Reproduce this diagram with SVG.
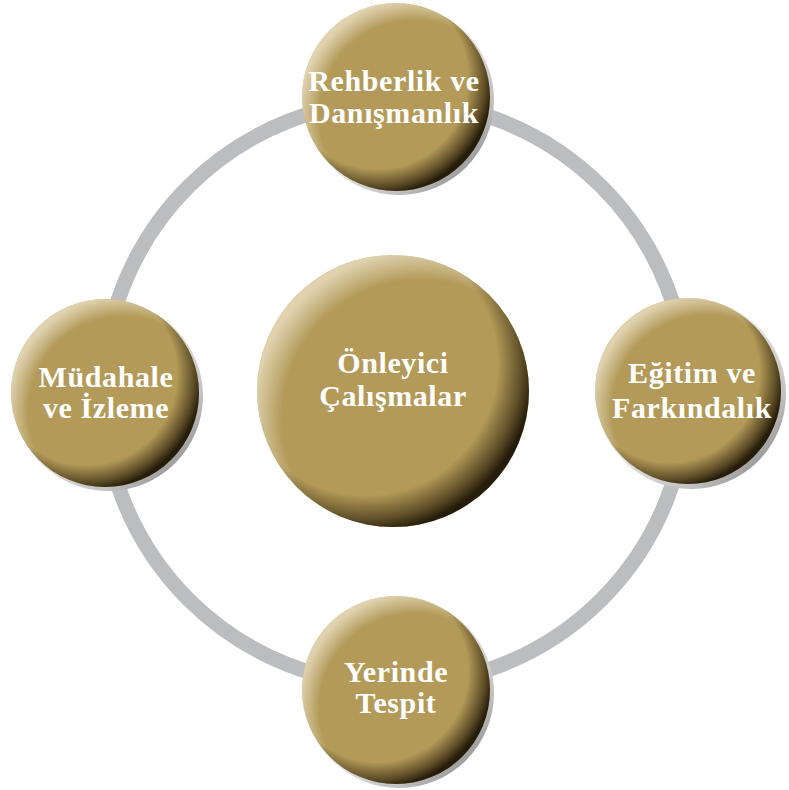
<svg xmlns="http://www.w3.org/2000/svg" width="789" height="790" viewBox="0 0 789 790">
<defs>
<radialGradient id="dark" cx="0.4" cy="0.4" r="0.62">
<stop offset="0" stop-color="#2a1f0a" stop-opacity="0"/>
<stop offset="0.78" stop-color="#2a1f0a" stop-opacity="0"/>
<stop offset="0.92" stop-color="#2a1f0a" stop-opacity="0.6"/>
<stop offset="1" stop-color="#1e1606" stop-opacity="0.95"/>
</radialGradient>
<radialGradient id="light" cx="0.6" cy="0.6" r="0.62">
<stop offset="0" stop-color="#ffffff" stop-opacity="0"/>
<stop offset="0.82" stop-color="#ffffff" stop-opacity="0"/>
<stop offset="1" stop-color="#fff8e8" stop-opacity="0.6"/>
</radialGradient>
<linearGradient id="rim" x1="0" y1="0" x2="1" y2="1">
<stop offset="0.3" stop-color="#ffffff"/>
<stop offset="0.75" stop-color="#c0c0c0"/>
<stop offset="1" stop-color="#6e6e6e"/>
</linearGradient>
<style>
.ring{fill:none;stroke:#bcbdbf;stroke-width:15}
.base{fill:#b39a58}
.dk{fill:url(#dark)}
.lt{fill:url(#light)}
.rim{fill:url(#rim)}
.lbl{font-family:"Liberation Serif","Times New Roman",serif;font-weight:bold;font-size:30px;letter-spacing:0.6px;fill:#ffffff;text-anchor:middle}
</style>
</defs>
<g id="connectors">
<circle class="ring" cx="395" cy="393" r="292"/>
</g>
<g id="center">
<circle class="base" cx="393" cy="391" r="136"/>
<circle class="lt" cx="393" cy="391" r="136"/>
<circle class="dk" cx="393" cy="391" r="136"/>
<text class="lbl" x="393" y="373">Önleyici</text>
<text class="lbl" x="393" y="406">Çalışmalar</text>
</g>
<g id="top">
<circle class="rim" cx="399" cy="100" r="95"/>
<circle class="base" cx="396" cy="97" r="94"/>
<circle class="lt" cx="396" cy="97" r="94"/>
<circle class="dk" cx="396" cy="97" r="94"/>
<text class="lbl" x="394" y="91">Rehberlik ve</text>
<text class="lbl" x="394" y="123">Danışmanlık</text>
</g>
<g id="left">
<circle class="rim" cx="108" cy="396" r="95"/>
<circle class="base" cx="105" cy="393" r="94"/>
<circle class="lt" cx="105" cy="393" r="94"/>
<circle class="dk" cx="105" cy="393" r="94"/>
<text class="lbl" x="106" y="387">Müdahale</text>
<text class="lbl" x="106" y="418">ve İzleme</text>
</g>
<g id="right">
<circle class="rim" cx="691" cy="394" r="95"/>
<circle class="base" cx="688" cy="391" r="93"/>
<circle class="lt" cx="688" cy="391" r="93"/>
<circle class="dk" cx="688" cy="391" r="93"/>
<text class="lbl" x="692" y="383">Eğitim ve</text>
<text class="lbl" x="692" y="418">Farkındalık</text>
</g>
<g id="bottom">
<circle class="rim" cx="399" cy="693" r="95"/>
<circle class="base" cx="396" cy="690" r="94"/>
<circle class="lt" cx="396" cy="690" r="94"/>
<circle class="dk" cx="396" cy="690" r="94"/>
<text class="lbl" x="396" y="682">Yerinde</text>
<text class="lbl" x="396" y="713">Tespit</text>
</g>
</svg>
